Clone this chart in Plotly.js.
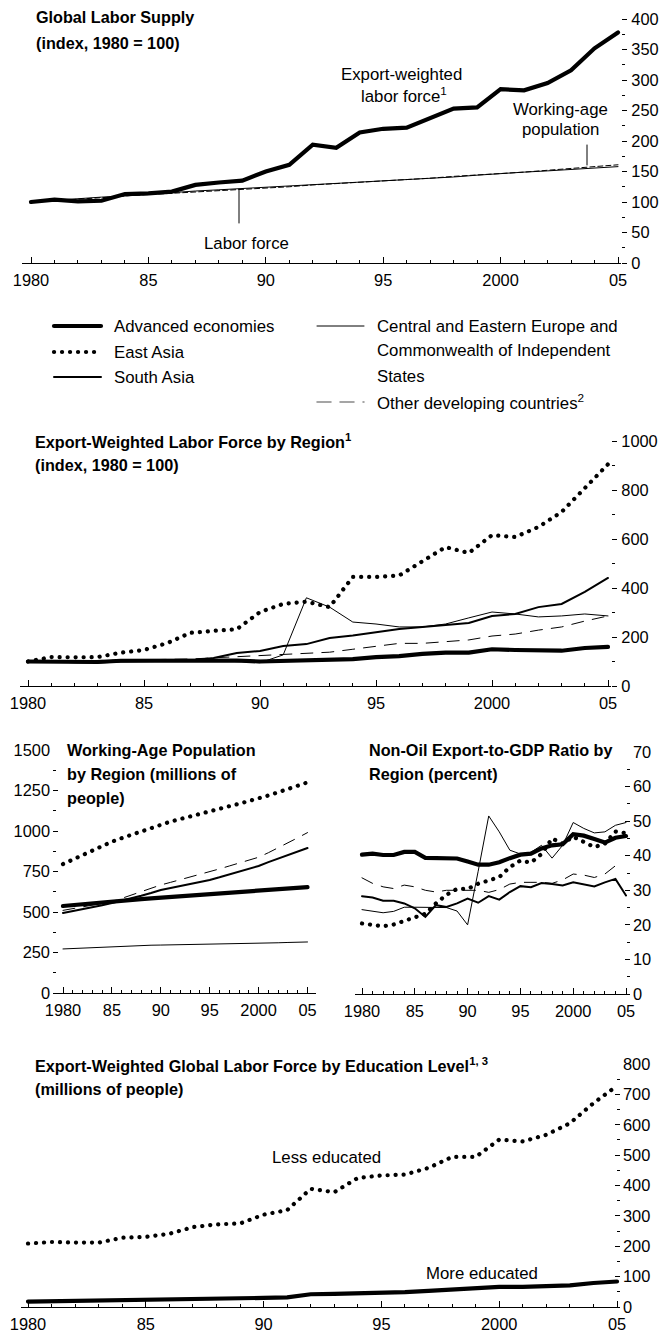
<!DOCTYPE html>
<html><head><meta charset="utf-8">
<script src="https://cdn.plot.ly/plotly-3.0.1.min.js"></script>
<style>
html,body{margin:0;padding:0;background:#fff;}
#chart{width:662px;height:1332px;}
.js-line, .shapelayer path { stroke-linecap: round; }
</style>
</head><body><div id="chart"></div>
<script>
// ---------------- DATA ----------------
const years = [1980,1981,1982,1983,1984,1985,1986,1987,1988,1989,1990,1991,1992,1993,1994,1995,1996,1997,1998,1999,2000,2001,2002,2003,2004,2005];
const yearTickVals = [1980,1985,1990,1995,2000,2005];
const yearTickText = ['1980','85','90','95','2000','05'];

// Panel 1: Global labor supply (index, 1980 = 100)
const supplyExportWeighted = [100,104,101,102,113,114,117,128,132,135,150,161,194,189,214,220,222,237,253,255,285,283,295,316,352,378];
const supplyLaborForce     = [100,103,105,108,110,113,115,118,120,122,124,126,128,130,132,135,137,139,141,144,147,149,151,153,156,158];
const supplyWorkingAge     = [100,102,105,107,110,112,115,117,119,121,123,125,128,130,132,134,137,139,142,144,147,149,152,155,158,161];
const p1Ticks = [0,50,100,150,200,250,300,350,400];

// Panel 2: Export-weighted labor force by region (index, 1980 = 100)
const ewAdvanced  = [100,98,97,98,103,104,102,103,104,104,100,102,103,104,110,118,122,131,136,136,150,147,145,144,155,160];
const ewEastAsia  = [100,118,117,118,136,147,175,217,225,232,302,335,344,322,445,445,451,510,567,543,616,608,649,710,808,905];
const ewSouthAsia = [100,101,97,96,100,101,100,104,114,135,143,163,171,196,206,220,233,241,249,257,286,294,322,335,384,441];
const ewCEE       = [100,100,99,99,101,102,101,102,104,100,95,127,360,322,261,253,241,241,253,278,302,294,282,286,294,286];
const ewOther     = [100,101,102,103,105,107,108,110,115,120,124,130,134,138,150,163,174,174,180,188,204,212,228,241,265,286];
const p2Ticks = [0,200,400,600,800,1000];

// Panel 3: Working-age population by region (millions of people)
const wapAdvanced  = [537,543,549,554,559,564,569,574,579,584,588,593,597,601,605,609,613,617,621,625,630,634,639,644,649,654];
const wapEastAsia  = [796,825,853,880,907,934,956,977,999,1020,1041,1058,1074,1091,1107,1123,1138,1153,1168,1184,1200,1219,1239,1259,1280,1300];
const wapSouthAsia = [494,505,517,529,542,556,570,585,600,617,636,648,660,672,685,698,714,731,748,766,784,808,830,852,874,895];
const wapCEE       = [272,275,278,281,284,287,289,291,293,295,296,297,297,298,298,299,300,301,302,304,306,308,310,312,313,315];
const wapOther     = [510,520,531,541,552,564,584,605,625,646,667,683,699,716,732,749,766,784,802,820,838,866,895,925,958,990];
const p3Ticks = [0,250,500,750,1000,1250,1500];

// Panel 4: Non-oil export-to-GDP ratio by region (percent)
const exAdvanced  = [40.3,40.6,40.2,40.2,41.1,41.1,39.4,39.3,39.0,39.2,38.3,37.4,37.4,38.1,39.3,40.3,40.6,42.1,43.0,43.3,46.2,45.8,44.8,43.8,45.2,45.7];
const exEastAsia  = [20.4,20.0,19.6,20.1,21.2,22.2,23.2,26.2,28.7,30.4,30.4,31.9,32.8,33.8,36.7,38.6,38.0,40.5,45.0,43.5,45.5,44.0,42.5,43.5,47.0,46.5];
const exSouthAsia = [28.3,27.9,27.0,27.0,26.2,24.8,22.3,25.7,25.2,26.2,27.6,26.4,28.3,27.3,29.5,31.2,30.9,32.1,31.8,31.4,32.3,31.8,31.1,32.3,33.3,28.5];
const exCEE       = [24.4,23.9,23.5,23.9,25.1,25.1,25.0,25.0,25.0,24.0,20.0,35.5,51.5,46.9,41.6,40.5,41.0,43.0,39.3,43.0,49.6,47.9,46.6,46.9,48.8,49.6];
const exOther     = [33.6,32.0,31.0,30.5,31.5,31.0,30.0,29.5,30.0,30.0,30.2,30.0,29.4,30.2,31.8,32.3,32.3,32.3,32.0,33.0,34.7,34.4,33.7,34.7,37.1,null];
const p4Ticks = [0,10,20,30,40,50,60,70];

// Panel 5: Export-weighted global labor force by education level (millions)
const eduLess = [209,214,212,212,228,231,241,263,272,275,304,319,389,378,425,433,436,458,494,494,551,545,567,605,671,728];
const eduMore = [18,19,19,20,22,23,24,25,27,29,30,32,42,43,44,46,49,53,58,60,66,66,68,71,79,84];
const p5Ticks = [0,100,200,300,400,500,600,700,800];

const legendNames = ['Advanced economies','East Asia','South Asia',
  'Central and Eastern Europe and<br>Commonwealth of Independent<br>States','Other developing countries<sup>2</sup>'];

// ---------------- FONT PICKING (condensed face if present) ----------------
function textWidth(text, family, weight) {
  const s = document.createElement('span');
  s.style.cssText = 'position:absolute;visibility:hidden;white-space:nowrap;font-size:100px;' +
    'font-family:' + family + ';font-weight:' + (weight || 400);
  s.textContent = text;
  document.body.appendChild(s);
  const r = s.getBoundingClientRect().width;
  s.remove();
  return r;
}
const PROBE = 'Advanced economies 1980';
function installed(name) {
  return textWidth(PROBE, "'" + name + "', monospace") !== textWidth(PROBE, 'monospace') ||
         textWidth(PROBE, "'" + name + "', serif") !== textWidth(PROBE, 'serif');
}
let FAMILY = "'Liberation Sans', Arial, sans-serif";
if (installed('Liberation Sans Narrow')) FAMILY = "'Liberation Sans Narrow', sans-serif";
else if (installed('Arial Narrow')) FAMILY = "'Arial Narrow', sans-serif";
// sizes chosen so that reference strings get their measured widths
function sizeFor(text, targetPx, weight) {
  return Math.round(10 * targetPx * 100 / textWidth(text, FAMILY, weight)) / 10;
}
const TICK_SIZE  = sizeFor('1980', 36.5, 400);
const BODY_SIZE  = sizeFor('Advanced economies', 161, 400);
const TITLE_SIZE = sizeFor('Global Labor Supply', 158, 700);

// ---------------- STYLE / LAYOUT ----------------
const W = 662, H = 1332;
const fx = x => x / W;
const fy = y => 1 - y / H;

const S = {
  thick:  {color:'#000', width:4.2},
  dotted: {color:'#000', width:4.2, dash:'0.1px,7.9px'},
  medium: {color:'#000', width:2},
  thin:   {color:'#000', width:1},
  dashed: {color:'#000', width:1, dash:'12px,9px'},
  wap:    {color:'#000', width:1, dash:'5px,3px'}
};

// pixel geometry of each panel
const G = {
  1: {l:22,  r:621, x0:31,  x1:618,   top:19,   bot:263,  ymax:400,  minor:25,  rightOut:true},
  2: {l:20,  r:611, x0:28,  x1:608,   top:441,  bot:686,  ymax:1000, minor:100, rightOut:true},
  3: {l:53,  r:316, x0:63,  x1:307.5, top:750,  bot:993,  ymax:1500, minor:125},
  4: {l:355, r:630, x0:362, x1:626,   top:752,  bot:994,  ymax:70,   minor:5},
  5: {l:21,  r:620, x0:28,  x1:617,   top:1064, bot:1307, ymax:800,  minor:50}
};
const yTicks = {1:p1Ticks, 2:p2Ticks, 3:p3Ticks, 4:p4Ticks, 5:p5Ticks};

const tickFont = {family:FAMILY, size:TICK_SIZE, color:'#000'};
const layout = {
  width:W, height:H, margin:{l:0,r:0,t:0,b:0},
  paper_bgcolor:'#fff', plot_bgcolor:'rgba(0,0,0,0)',
  showlegend:false, font:{family:FAMILY, color:'#000'},
  annotations:[], shapes:[]
};

for (let i = 1; i <= 5; i++) {
  const g = G[i];
  const ppy = (g.x1 - g.x0) / 25;
  const xr = [1980 - (g.x0 - g.l) / ppy, 2005 + (g.r - g.x1) / ppy];
  const xs = i === 1 ? '' : String(i);
  layout['xaxis' + xs] = {
    domain:[fx(g.l), fx(g.r)], range:xr, anchor:'y' + xs,
    showline:true, linecolor:'#000', linewidth:1.3, showgrid:false, zeroline:false,
    ticks:'inside', ticklen:6, tickwidth:1, tickcolor:'#000',
    tickmode:'array', tickvals:yearTickVals, ticktext:yearTickText, tickfont:tickFont,
    ticklabelstandoff:2,
    minor:{tick0:1980, dtick:1, ticks:'inside', ticklen:3.5, tickwidth:1, tickcolor:'#000', showgrid:false},
    fixedrange:true
  };
  const labelsLeft = (i === 3);
  const common = {
    range:[0, g.ymax], showgrid:false, zeroline:false, showline:false,
    tickmode:'array', tickvals:yTicks[i], tickwidth:1, tickcolor:'#000',
    minor:{tick0:0, dtick:g.minor, ticklen:3, tickwidth:1, tickcolor:'#000', showgrid:false},
    fixedrange:true
  };
  const labelled = Object.assign({}, common, {
    domain:[fy(g.bot), fy(g.top)], anchor:'x' + xs,
    side: labelsLeft ? 'left' : 'right',
    ticks: g.rightOut ? 'outside' : 'inside', ticklen:5,
    tickfont:tickFont, showticklabels:true,
    ticklabelstandoff: g.rightOut ? 1 : 2
  });
  labelled.minor = Object.assign({}, common.minor, {ticks: labelled.ticks});
  layout['yaxis' + xs] = labelled;
  const other = Object.assign({}, common, {
    overlaying:'y' + xs, anchor:'x' + xs,
    side: labelsLeft ? 'right' : 'left',
    ticks:'inside', ticklen:6, showticklabels:false
  });
  other.minor = Object.assign({}, common.minor, {ticks:'inside', ticklen:3.5});
  layout['yaxis' + (i + 5)] = other;
}

// ---------------- TRACES ----------------
function tr(y, panel, style) {
  const xs = panel === 1 ? '' : String(panel);
  return {type:'scatter', mode:'lines', x:years, y:y, xaxis:'x' + xs, yaxis:'y' + xs,
          line:Object.assign({}, style), hoverinfo:'skip', connectgaps:false, showlegend:false};
}
const data = [
  tr(supplyLaborForce, 1, S.thin),
  tr(supplyWorkingAge, 1, S.wap),
  tr(supplyExportWeighted, 1, S.thick),

  tr(ewOther, 2, S.dashed),
  tr(ewCEE, 2, S.thin),
  tr(ewSouthAsia, 2, S.medium),
  tr(ewAdvanced, 2, S.thick),
  tr(ewEastAsia, 2, S.dotted),

  tr(wapCEE, 3, S.thin),
  tr(wapOther, 3, S.dashed),
  tr(wapSouthAsia, 3, S.medium),
  tr(wapAdvanced, 3, S.thick),
  tr(wapEastAsia, 3, S.dotted),

  tr(exOther, 4, S.dashed),
  tr(exCEE, 4, S.thin),
  tr(exSouthAsia, 4, S.medium),
  tr(exEastAsia, 4, S.dotted),
  tr(exAdvanced, 4, S.thick),

  tr(eduLess, 5, S.dotted),
  tr(eduMore, 5, S.thick)
];

// ---------------- TEXT ----------------
function ann(text, x, y, anchor, size) {
  layout.annotations.push({text:text, x:fx(x), y:fy(y), xref:'paper', yref:'paper',
    xanchor:anchor || 'left', yanchor:'middle', showarrow:false,
    font:{family:FAMILY, size:size || BODY_SIZE, color:'#000'}});
}
function title(text, x, y) { ann('<b>' + text + '</b>', x, y, 'left', TITLE_SIZE); }
function seg(x0, y0, x1, y1, line) {
  layout.shapes.push({type:'line', xref:'paper', yref:'paper',
    x0:fx(x0), y0:fy(y0), x1:fx(x1), y1:fy(y1), line:line});
}

// panel 1
title('Global Labor Supply', 34, 17);
title('(index, 1980 = 100)', 34, 43);
ann('Export-weighted', 401, 75, 'center');
ann('labor force<sup>1</sup>', 404, 95, 'center');
ann('Working-age', 560, 110, 'center');
ann('population', 560, 130, 'center');
ann('Labor force', 246, 244, 'center');
seg(587, 145, 587, 165, {color:'#000', width:1});
seg(239, 189, 239, 223, {color:'#000', width:1});

// legend
const legendStyles = [S.thick, S.dotted, S.medium, S.thin, {color:'#888', width:1.5, dash:'14px,9px'}];
const legendPos = [[54,326],[54,352],[54,377],[317,326],[317,402]];
legendNames.forEach((name, k) => {
  const [lx, ly] = legendPos[k];
  seg(lx, ly, lx + 47, ly, Object.assign({}, legendStyles[k]));
  name.split('<br>').forEach((t, j) => ann(t, lx + 58, ly + j * 25));
});

// panel 2
title('Export-Weighted Labor Force by Region<sup>1</sup>', 33, 441);
title('(index, 1980 = 100)', 33, 465);

// panel 3
title('Working-Age Population', 65, 750);
title('by Region (millions of', 65, 774);
title('people)', 65, 798);

// panel 4
title('Non-Oil Export-to-GDP Ratio by', 367, 750);
title('Region (percent)', 367, 774);

// panel 5
title('Export-Weighted Global Labor Force by Education Level<sup>1, 3</sup>', 33, 1065);
title('(millions of people)', 33, 1089);
ann('Less educated', 326, 1157, 'center');
ann('More educated', 482, 1273, 'center');

Plotly.newPlot('chart', data, layout, {staticPlot:true, displayModeBar:false});
</script>
</body></html>
